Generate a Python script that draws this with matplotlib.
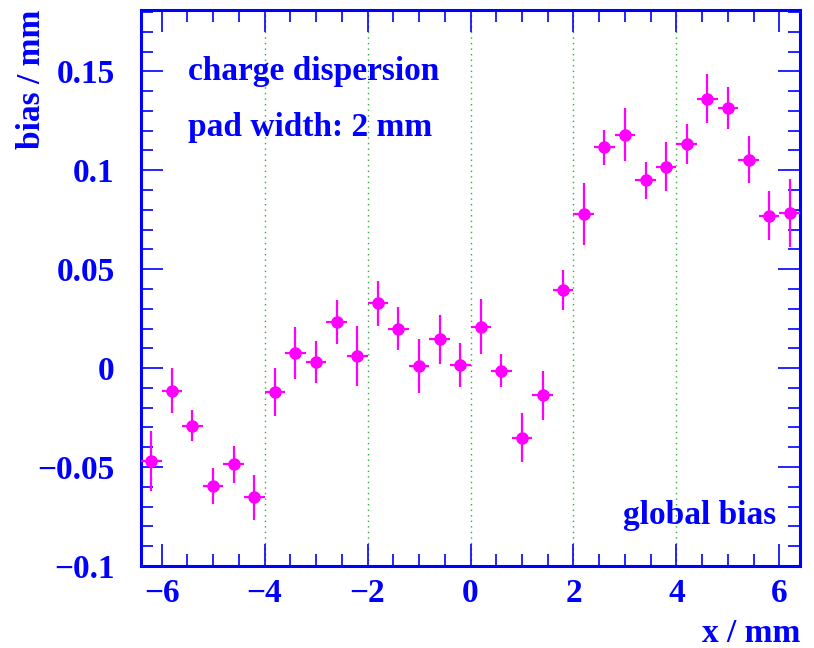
import matplotlib
matplotlib.use("Agg")
import matplotlib.pyplot as plt
from matplotlib.ticker import MultipleLocator, FixedLocator

plt.rcParams['font.family'] = ['Liberation Serif', 'DejaVu Serif']
plt.rcParams['font.weight'] = 'bold'

x_pos = [-6.2, -5.8, -5.4, -5.0, -4.6, -4.2, -3.8, -3.4, -3.0, -2.6, -2.2, -1.8,
         -1.4, -1.0, -0.6, -0.2, 0.2, 0.6, 1.0, 1.4, 1.8, 2.2, 2.6, 3.0,
         3.4, 3.8, 4.2, 4.6, 5.0, 5.4, 5.8, 6.2]
bias = [-0.047, -0.0115, -0.029, -0.0596, -0.0487, -0.0653, -0.0121, 0.0077,
        0.003, 0.0231, 0.0062, 0.0327, 0.020, 0.0012, 0.0145, 0.0017,
        0.021, -0.0012, -0.0352, -0.0138, 0.0395, 0.0779, 0.1116, 0.118,
        0.0949, 0.1019, 0.1132, 0.1362, 0.1315, 0.1054, 0.077, 0.0784]
bias_err = [0.0152, 0.0114, 0.008, 0.009, 0.0094, 0.0115, 0.0122, 0.0132,
            0.0105, 0.0111, 0.0153, 0.0113, 0.011, 0.0137, 0.0122, 0.011,
            0.014, 0.0085, 0.0124, 0.0123, 0.010, 0.0157, 0.0088, 0.0134,
            0.0093, 0.0123, 0.010, 0.0125, 0.0107, 0.0119, 0.0123, 0.017]
x_err = [0.2] * len(x_pos)
x_ticks = [-6, -4, -2, 0, 2, 4, 6]
y_ticks = [-0.1, -0.05, 0, 0.05, 0.1, 0.15]
y_ticklabels = ['\u22120.1', '\u22120.05', '0', '0.05', '0.1', '0.15']
x_ticklabels = ['\u22126', '\u22124', '\u22122', '0', '2', '4', '6']
grid_x = [-4, -2, 0, 2, 4]

blue = '#0000ff'
mag = '#ff00ff'
fs = 24

fig = plt.figure(figsize=(8.14, 6.48), dpi=100)
ax = fig.add_axes([141/814, 1-566/648, (800-141)/814, (566-10)/648])

for gx in grid_x:
    ax.axvline(gx, color='#33aa33', linestyle=(0, (1, 3)), linewidth=1.0, zorder=1)

ax.errorbar(x_pos, bias, yerr=bias_err, xerr=x_err, fmt='o', color=mag,
            ecolor=mag, markersize=8, elinewidth=1.6, capsize=0, zorder=3)

ax.set_xlim(-6.4, 6.4)
ax.set_ylim(-0.1, 0.181)

ax.xaxis.set_major_locator(FixedLocator(x_ticks))
ax.set_xticklabels(x_ticklabels)
ax.xaxis.set_minor_locator(MultipleLocator(0.5))
ax.yaxis.set_major_locator(FixedLocator(y_ticks))
ax.set_yticklabels(y_ticklabels)
ax.yaxis.set_minor_locator(MultipleLocator(0.01))

ax.tick_params(which='both', direction='in', top=True, right=True, colors=blue,
               labelcolor=blue, labelsize=fs)
ax.tick_params(which='major', length=16, width=1.2)
ax.tick_params(which='minor', length=8.5, width=1.2)
ax.tick_params(axis='x', which='major', pad=9)
ax.tick_params(axis='y', which='major', pad=19)
for lab in ax.get_xticklabels() + ax.get_yticklabels():
    lab.set_fontweight('bold')

for s in ax.spines.values():
    s.set_color(blue)
    s.set_linewidth(2.2)

ax.text(-5.49, 0.150, 'charge dispersion', color=blue, fontsize=fs,
        fontweight='bold', ha='left', va='center')
ax.text(-5.49, 0.1215, 'pad width: 2 mm', color=blue, fontsize=fs,
        fontweight='bold', ha='left', va='center')
ax.text(5.93, -0.0745, 'global bias', color=blue, fontsize=fs,
        fontweight='bold', ha='right', va='center')

fig.text(32/814, 1-10/648, 'bias / mm', color=blue, fontsize=fs,
         fontweight='bold', rotation=90, ha='center', va='top')
fig.text(800/814, 1-634/648, 'x / mm', color=blue, fontsize=fs,
         fontweight='bold', ha='right', va='center')

fig.savefig('out.png', dpi=100)
